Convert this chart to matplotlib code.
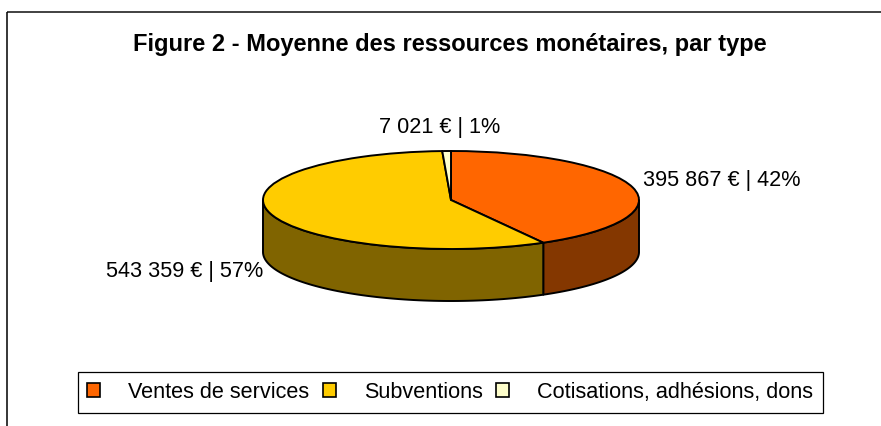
import numpy as np
import matplotlib
matplotlib.use("Agg")
import matplotlib.pyplot as plt
from matplotlib.patches import Wedge, Polygon, Patch

# ---- data ----
categories = ["Ventes de services", "Subventions", "Cotisations, adhésions, dons"]
values = [395867, 543359, 7021]
title = "Figure 2 - Moyenne des ressources monétaires, par type"

# ---- style ----
top_colors = ["#FF6600", "#FFCC00", "#FFFFCC"]
side_colors = ["#843700", "#806400", "#808066"]
plt.rcParams['font.family'] = ['Liberation Sans', 'DejaVu Sans']

W, H = 881, 426
fig = plt.figure(figsize=(W / 100, H / 100), dpi=100)
fig.patch.set_facecolor("white")

# background axes in pixel coordinates (for the open frame)
bg = fig.add_axes([0, 0, 1, 1])
bg.set_xlim(0, W)
bg.set_ylim(H, 0)
bg.axis("off")
bg.plot([7, W + 20], [12, 12], color="#333333", linewidth=1.3, solid_capstyle="butt")
bg.plot([7, 7], [12, H + 20], color="black", linewidth=1.1, solid_capstyle="butt")

# pie geometry (pixels)
cx, cy, a, b, depth = 451, 200, 188, 49, 52
d = depth / b
ax = fig.add_axes([(cx - a) / W, (H - (cy + b + depth)) / H, 2 * a / W, (2 * b + depth) / H])
ax.set_xlim(-1, 1)
ax.set_ylim(-1 - d, 1)
ax.axis("off")

vals = np.array(values, dtype=float)
fracs = vals / vals.sum()
ends = 90 - 360 * np.cumsum(fracs)
starts = np.concatenate([[90], ends[:-1]])

lw = 1.4
# side walls (front half only)
for s, e, col in zip(starts, ends, side_colors):
    lo, hi = e, s
    for k in (-2, -1, 0, 1):
        f_lo, f_hi = -180 + 360 * k, 0 + 360 * k
        o_lo, o_hi = max(lo, f_lo), min(hi, f_hi)
        if o_hi > o_lo:
            th = np.radians(np.linspace(o_lo, o_hi, 80))
            top = np.column_stack([np.cos(th), np.sin(th)])
            bot = np.column_stack([np.cos(th[::-1]), np.sin(th[::-1]) - d])
            ax.add_patch(Polygon(np.vstack([top, bot]), closed=True, facecolor=col,
                                 edgecolor="black", linewidth=lw, joinstyle="round",
                                 clip_on=False, zorder=1))
# top faces
for s, e, col in zip(starts, ends, top_colors):
    ax.add_patch(Wedge((0, 0), 1, e, s, facecolor=col, edgecolor="black",
                       linewidth=lw, joinstyle="round", clip_on=False, zorder=2))

# data labels
label_pos = [(1.02, 0.39, "left"), (-1.0, -1.45, "right"), (-0.06, 1.47, "center")]
for v, p, (lx, ly, ha) in zip(values, fracs, label_pos):
    txt = f"{v:,}".replace(",", " ") + f" € | {round(p * 100):.0f}%"
    ax.text(lx, ly, txt, ha=ha, va="center", fontsize=15.6, clip_on=False)

fig.text(450 / W, 1 - 44 / H, title, ha="center", va="center", fontsize=17, fontweight="bold")

handles = [Patch(facecolor=c, edgecolor="black", linewidth=1.2) for c in top_colors]
leg = fig.legend(handles, categories, ncol=3, loc="center",
                 bbox_to_anchor=(450 / W, 1 - 392.5 / H), frameon=True, fancybox=False,
                 edgecolor="black", framealpha=1, fontsize=15.6, handlelength=0.6,
                 handleheight=0.6, handletextpad=1.3, columnspacing=0.6, borderpad=0.45)
leg.get_frame().set_linewidth(0.9)

fig.savefig("out.png", dpi=100)
